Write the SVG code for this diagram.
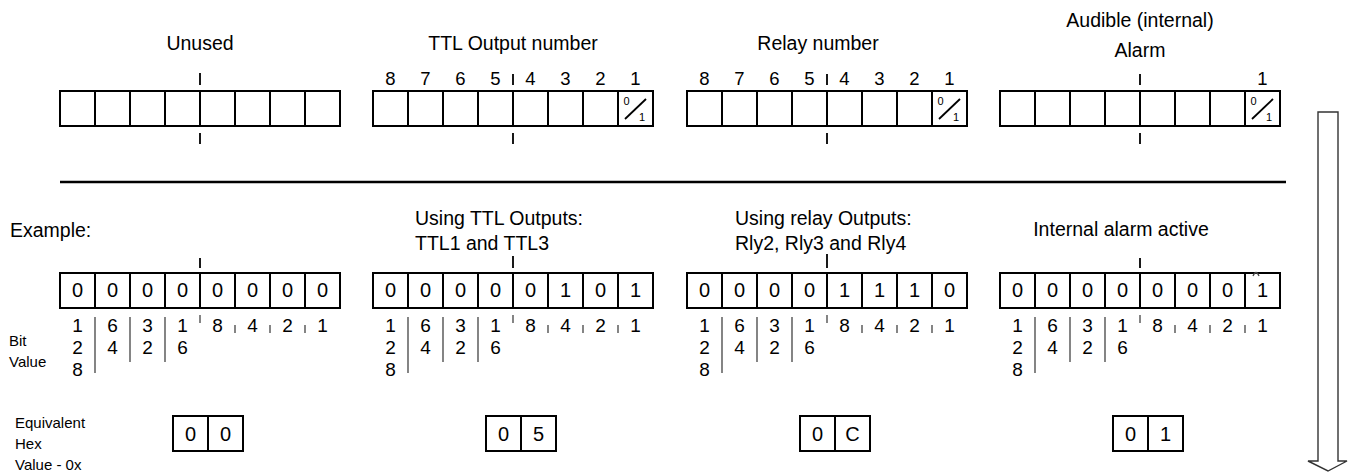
<svg xmlns="http://www.w3.org/2000/svg" xmlns:xlink="http://www.w3.org/1999/xlink" width="1348" height="475" viewBox="0 0 1348 475">
  <style>
    text { font-family: "Liberation Sans", Arial, sans-serif; fill: #000; }
    .title { font-size: 19.5px; }
    .mid { text-anchor: middle; }
    .num { font-size: 18.5px; text-anchor: middle; }
    .bit { font-size: 20px; text-anchor: middle; }
    .bv { font-size: 19px; text-anchor: middle; }
    .small { font-size: 15px; }
    .tiny { font-size: 11px; text-anchor: middle; }
    .box { fill: #fff; stroke: #000; stroke-width: 2; }
    .div { fill: none; stroke: #000; stroke-width: 2; }
    .tick { fill: none; stroke: #000; stroke-width: 1.8; }
    .sep { fill: none; stroke: #444; stroke-width: 1.3; }
    .rule { fill: none; stroke: #000; stroke-width: 2.5; }
    .arrow { fill: #fff; stroke: #333; stroke-width: 1.4; }
  </style>
  <defs>
    <!-- eight-bit register: outline plus cell dividers -->
    <g id="cells8">
      <rect class="box" x="0" y="0" width="280" height="35"/>
      <path class="div" d="M35,0V35M70,0V35M105,0V35M140,0V35M175,0V35M210,0V35M245,0V35"/>
    </g>
    <!-- separators between bit weights -->
    <path id="bitseps" class="sep" d="M35,2V58M70,2V47M105,2V47M140,0V8M175,10V18M210,10V18M245,10V18"/>
    <!-- two-digit hex box -->
    <g id="cells2">
      <rect class="box" x="0" y="0" width="70" height="35"/>
      <path class="div" d="M35,0V35"/>
    </g>
  </defs>

  <!-- ===== Register layout ===== -->
  <g id="reg-unused">
    <text class="title mid" x="200" y="50">Unused</text>
    <path class="tick" d="M200,73V85M200,133V144"/>
    <use xlink:href="#cells8" x="60" y="91"/>
  </g>

  <g id="reg-ttl">
    <text class="title mid" x="513" y="50">TTL Output number</text>
    <text class="num" x="390.5" y="85">8</text>
    <text class="num" x="425.5" y="85">7</text>
    <text class="num" x="460.5" y="85">6</text>
    <text class="num" x="495.5" y="85">5</text>
    <text class="num" x="530.5" y="85">4</text>
    <text class="num" x="565.5" y="85">3</text>
    <text class="num" x="600.5" y="85">2</text>
    <text class="num" x="635.5" y="85">1</text>
    <path class="tick" d="M513,74V85M513,133V144"/>
    <use xlink:href="#cells8" x="373" y="91"/>
    <text class="tiny" x="626.5" y="105">0</text>
    <path class="tick" d="M625,119L646,99"/>
    <text class="tiny" x="642" y="121">1</text>
  </g>

  <g id="reg-relay">
    <text class="title mid" x="818" y="50">Relay number</text>
    <text class="num" x="704.5" y="85">8</text>
    <text class="num" x="739.5" y="85">7</text>
    <text class="num" x="774.5" y="85">6</text>
    <text class="num" x="809.5" y="85">5</text>
    <text class="num" x="844.5" y="85">4</text>
    <text class="num" x="879.5" y="85">3</text>
    <text class="num" x="914.5" y="85">2</text>
    <text class="num" x="949.5" y="85">1</text>
    <path class="tick" d="M827,74V85M827,133V144"/>
    <use xlink:href="#cells8" x="687" y="91"/>
    <text class="tiny" x="940.5" y="105">0</text>
    <path class="tick" d="M939,119L960,99"/>
    <text class="tiny" x="956" y="121">1</text>
  </g>

  <g id="reg-alarm">
    <text class="title mid" x="1140" y="27">Audible (internal)</text>
    <text class="title mid" x="1140" y="57">Alarm</text>
    <text class="num" x="1262.5" y="85">1</text>
    <path class="tick" d="M1140,74V85M1140,133V144"/>
    <use xlink:href="#cells8" x="1000" y="91"/>
    <text class="tiny" x="1253.5" y="105">0</text>
    <path class="tick" d="M1252,119L1273,99"/>
    <text class="tiny" x="1269" y="121">1</text>
  </g>

  <!-- divider between layout and example -->
  <path id="rule" class="rule" d="M60,182H1286"/>

  <!-- downward flow arrow -->
  <path id="flow-arrow" class="arrow" d="M1318,112H1338V461H1347L1328,471L1308,461H1318Z"/>

  <!-- ===== Example ===== -->
  <g id="labels">
    <text class="title" x="10" y="237">Example:</text>
    <text class="small" x="9" y="346">Bit</text>
    <text class="small" x="9" y="367">Value</text>
    <text class="small" x="15" y="428">Equivalent</text>
    <text class="small" x="15" y="449">Hex</text>
    <text class="small" x="15" y="470">Value - 0x</text>
  </g>

  <g id="ex-unused">
    <path class="tick" d="M200,258V268"/>
    <use xlink:href="#cells8" x="60" y="273"/>
    <text class="bit" x="77.5" y="297">0</text>
    <text class="bit" x="112.5" y="297">0</text>
    <text class="bit" x="147.5" y="297">0</text>
    <text class="bit" x="182.5" y="297">0</text>
    <text class="bit" x="217.5" y="297">0</text>
    <text class="bit" x="252.5" y="297">0</text>
    <text class="bit" x="287.5" y="297">0</text>
    <text class="bit" x="322.5" y="297">0</text>
    <use xlink:href="#bitseps" x="60" y="315"/>
    <text class="bv" x="77.5" y="332">1</text>
    <text class="bv" x="77.5" y="354">2</text>
    <text class="bv" x="77.5" y="376">8</text>
    <text class="bv" x="112.5" y="332">6</text>
    <text class="bv" x="112.5" y="354">4</text>
    <text class="bv" x="147.5" y="332">3</text>
    <text class="bv" x="147.5" y="354">2</text>
    <text class="bv" x="182.5" y="332">1</text>
    <text class="bv" x="182.5" y="354">6</text>
    <text class="bv" x="217.5" y="332">8</text>
    <text class="bv" x="252.5" y="332">4</text>
    <text class="bv" x="287.5" y="332">2</text>
    <text class="bv" x="322.5" y="332">1</text>
  </g>

  <g id="ex-ttl">
    <text class="title" x="415" y="225">Using TTL Outputs:</text>
    <text class="title" x="415" y="250">TTL1 and TTL3</text>
    <path class="tick" d="M513,256V268"/>
    <use xlink:href="#cells8" x="373" y="273"/>
    <text class="bit" x="390.5" y="297">0</text>
    <text class="bit" x="425.5" y="297">0</text>
    <text class="bit" x="460.5" y="297">0</text>
    <text class="bit" x="495.5" y="297">0</text>
    <text class="bit" x="530.5" y="297">0</text>
    <text class="bit" x="565.5" y="297">1</text>
    <text class="bit" x="600.5" y="297">0</text>
    <text class="bit" x="635.5" y="297">1</text>
    <use xlink:href="#bitseps" x="373" y="315"/>
    <text class="bv" x="390.5" y="332">1</text>
    <text class="bv" x="390.5" y="354">2</text>
    <text class="bv" x="390.5" y="376">8</text>
    <text class="bv" x="425.5" y="332">6</text>
    <text class="bv" x="425.5" y="354">4</text>
    <text class="bv" x="460.5" y="332">3</text>
    <text class="bv" x="460.5" y="354">2</text>
    <text class="bv" x="495.5" y="332">1</text>
    <text class="bv" x="495.5" y="354">6</text>
    <text class="bv" x="530.5" y="332">8</text>
    <text class="bv" x="565.5" y="332">4</text>
    <text class="bv" x="600.5" y="332">2</text>
    <text class="bv" x="635.5" y="332">1</text>
  </g>

  <g id="ex-relay">
    <text class="title" x="735" y="225">Using relay Outputs:</text>
    <text class="title" x="735" y="250">Rly2, Rly3 and Rly4</text>
    <path class="tick" d="M827,254V268"/>
    <use xlink:href="#cells8" x="687" y="273"/>
    <text class="bit" x="704.5" y="297">0</text>
    <text class="bit" x="739.5" y="297">0</text>
    <text class="bit" x="774.5" y="297">0</text>
    <text class="bit" x="809.5" y="297">0</text>
    <text class="bit" x="844.5" y="297">1</text>
    <text class="bit" x="879.5" y="297">1</text>
    <text class="bit" x="914.5" y="297">1</text>
    <text class="bit" x="949.5" y="297">0</text>
    <use xlink:href="#bitseps" x="687" y="315"/>
    <text class="bv" x="704.5" y="332">1</text>
    <text class="bv" x="704.5" y="354">2</text>
    <text class="bv" x="704.5" y="376">8</text>
    <text class="bv" x="739.5" y="332">6</text>
    <text class="bv" x="739.5" y="354">4</text>
    <text class="bv" x="774.5" y="332">3</text>
    <text class="bv" x="774.5" y="354">2</text>
    <text class="bv" x="809.5" y="332">1</text>
    <text class="bv" x="809.5" y="354">6</text>
    <text class="bv" x="844.5" y="332">8</text>
    <text class="bv" x="879.5" y="332">4</text>
    <text class="bv" x="914.5" y="332">2</text>
    <text class="bv" x="949.5" y="332">1</text>
  </g>

  <g id="ex-alarm">
    <text class="title mid" x="1121" y="236">Internal alarm active</text>
    <path class="tick" d="M1140,258V268"/>
    <use xlink:href="#cells8" x="1000" y="273"/>
    <text class="bit" x="1017.5" y="297">0</text>
    <text class="bit" x="1052.5" y="297">0</text>
    <text class="bit" x="1087.5" y="297">0</text>
    <text class="bit" x="1122.5" y="297">0</text>
    <text class="bit" x="1157.5" y="297">0</text>
    <text class="bit" x="1192.5" y="297">0</text>
    <text class="bit" x="1227.5" y="297">0</text>
    <text class="bit" x="1262.5" y="297">1</text>
    <path class="sep" d="M1253,276Q1256,269 1259,276"/>
    <use xlink:href="#bitseps" x="1000" y="315"/>
    <text class="bv" x="1017.5" y="332">1</text>
    <text class="bv" x="1017.5" y="354">2</text>
    <text class="bv" x="1017.5" y="376">8</text>
    <text class="bv" x="1052.5" y="332">6</text>
    <text class="bv" x="1052.5" y="354">4</text>
    <text class="bv" x="1087.5" y="332">3</text>
    <text class="bv" x="1087.5" y="354">2</text>
    <text class="bv" x="1122.5" y="332">1</text>
    <text class="bv" x="1122.5" y="354">6</text>
    <text class="bv" x="1157.5" y="332">8</text>
    <text class="bv" x="1192.5" y="332">4</text>
    <text class="bv" x="1227.5" y="332">2</text>
    <text class="bv" x="1262.5" y="332">1</text>
  </g>

  <!-- ===== Equivalent hex values ===== -->
  <g id="hex-00">
    <use xlink:href="#cells2" x="173" y="416"/>
    <text class="bit" x="190.5" y="441">0</text>
    <text class="bit" x="225.5" y="441">0</text>
  </g>
  <g id="hex-05">
    <use xlink:href="#cells2" x="486" y="416"/>
    <text class="bit" x="503.5" y="441">0</text>
    <text class="bit" x="538.5" y="441">5</text>
  </g>
  <g id="hex-0c">
    <use xlink:href="#cells2" x="800" y="416"/>
    <text class="bit" x="817.5" y="441">0</text>
    <text class="bit" x="852.5" y="441">C</text>
  </g>
  <g id="hex-01">
    <use xlink:href="#cells2" x="1113" y="416"/>
    <text class="bit" x="1130.5" y="441">0</text>
    <text class="bit" x="1165.5" y="441">1</text>
  </g>
</svg>
